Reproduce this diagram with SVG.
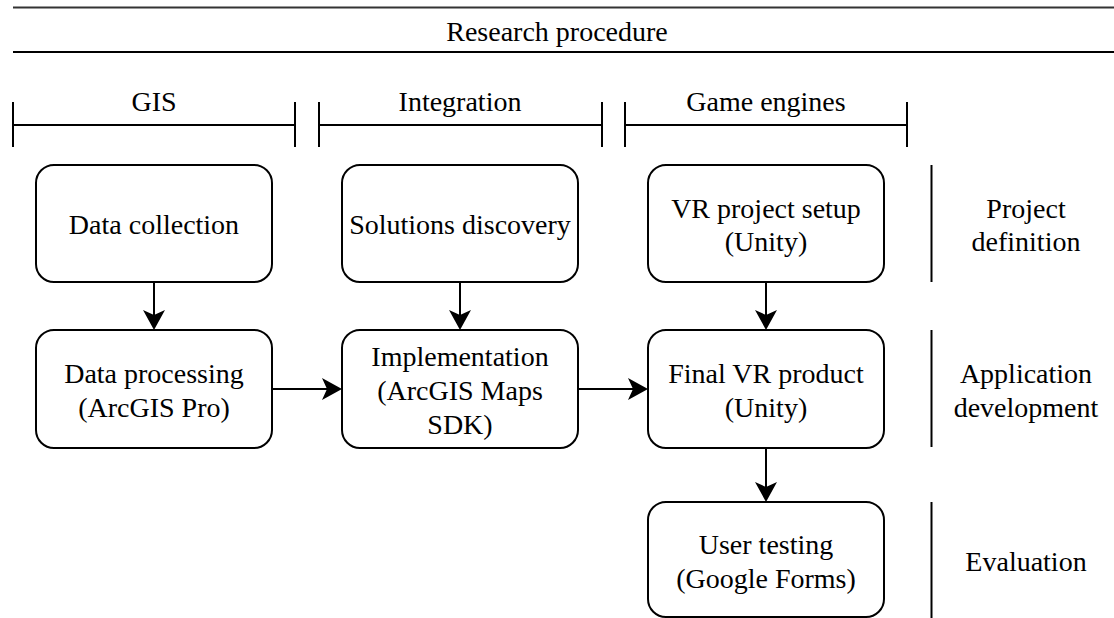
<svg xmlns="http://www.w3.org/2000/svg" width="1114" height="618" viewBox="0 0 1114 618">
<style>
text{font-family:"Liberation Serif","Times New Roman",serif;font-size:28px;fill:#000;text-anchor:middle}
.box{fill:#fff;stroke:#000;stroke-width:2}
.ln{stroke:#000;stroke-width:2;fill:none}
.conn{stroke:#000;stroke-width:2;fill:none;marker-end:url(#arr)}
</style>
<defs>
<marker id="arr" viewBox="0 0 20 22" refX="5" refY="11" markerWidth="20" markerHeight="22" markerUnits="userSpaceOnUse" orient="auto">
<path d="M0,0 L20,11 L0,22 L5,11 Z" fill="#000"/>
</marker>
</defs>
<rect width="1114" height="618" fill="#fff"/>
<g id="header">
<line x1="13" y1="7.5" x2="1114" y2="7.5" stroke="#333" stroke-width="2"/>
<line class="ln" x1="13" y1="52" x2="1114" y2="52"/>
<text x="557" y="41">Research procedure</text>
</g>
<g id="range-gis">
<path class="ln" d="M13,102 V147 M13,125 H295 M295,102 V147"/>
<text x="154" y="111">GIS</text>
</g>
<g id="range-integration">
<path class="ln" d="M319,102 V147 M319,125 H602 M602,102 V147"/>
<text x="460" y="111">Integration</text>
</g>
<g id="range-game">
<path class="ln" d="M625,102 V147 M625,125 H907 M907,102 V147"/>
<text x="766" y="111">Game engines</text>
</g>
<g id="n-data-collection">
<rect class="box" x="36" y="165" width="236" height="117" rx="18"/>
<text x="154" y="234">Data collection</text>
</g>
<g id="n-solutions">
<rect class="box" x="342" y="165" width="236" height="117" rx="18"/>
<text x="460" y="234">Solutions discovery</text>
</g>
<g id="n-vr-setup">
<rect class="box" x="648" y="165" width="236" height="117" rx="18"/>
<text x="766" y="217.5">VR project setup</text>
<text x="766" y="251">(Unity)</text>
</g>
<g id="n-data-processing">
<rect class="box" x="36" y="330" width="236" height="118" rx="18"/>
<text x="154" y="383">Data processing</text>
<text x="154" y="416.5">(ArcGIS Pro)</text>
</g>
<g id="n-implementation">
<rect class="box" x="342" y="330" width="236" height="118" rx="18"/>
<text x="460" y="366">Implementation</text>
<text x="460" y="400">(ArcGIS Maps</text>
<text x="460" y="433.5">SDK)</text>
</g>
<g id="n-final-vr">
<rect class="box" x="648" y="330" width="236" height="118" rx="18"/>
<text x="766" y="383">Final VR product</text>
<text x="766" y="416.5">(Unity)</text>
</g>
<g id="n-user-testing">
<rect class="box" x="648" y="502" width="236" height="115" rx="18"/>
<text x="766" y="554">User testing</text>
<text x="766" y="587.5">(Google Forms)</text>
</g>
<g id="phase-project-definition">
<line class="ln" x1="931.5" y1="165" x2="931.5" y2="282"/>
<text x="1026" y="217.5">Project</text>
<text x="1026" y="251">definition</text>
</g>
<g id="phase-application-development">
<line class="ln" x1="931.5" y1="330" x2="931.5" y2="447"/>
<text x="1026" y="383">Application</text>
<text x="1026" y="416.5">development</text>
</g>
<g id="phase-evaluation">
<line class="ln" x1="931.5" y1="502" x2="931.5" y2="618"/>
<text x="1026" y="571">Evaluation</text>
</g>
<g id="connectors">
<path class="conn" d="M154,282 V315"/>
<path class="conn" d="M460,282 V315"/>
<path class="conn" d="M766,282 V315"/>
<path class="conn" d="M272,389 H327"/>
<path class="conn" d="M578,389 H633"/>
<path class="conn" d="M766,448 V487"/>
</g>
</svg>
